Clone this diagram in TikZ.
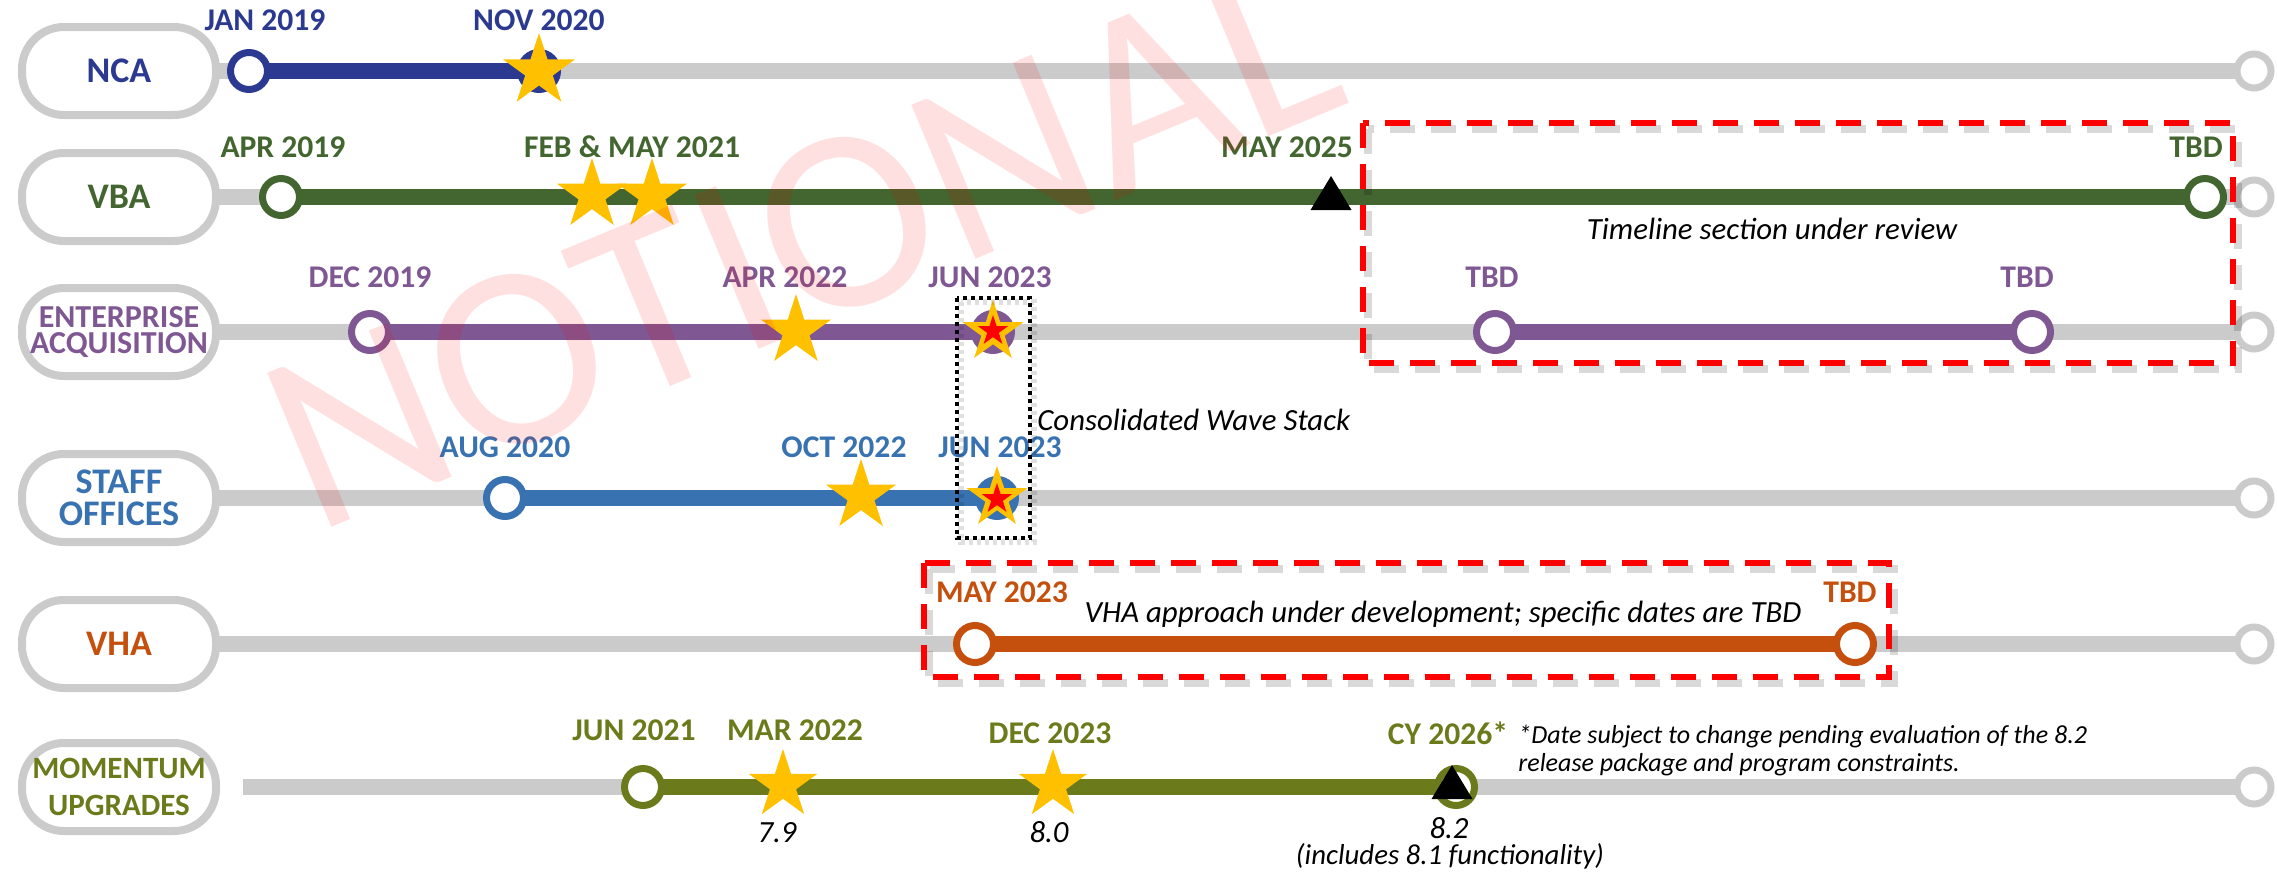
\documentclass[tikz,border=0pt]{standalone}
\usepackage{fontspec}
\setmainfont{Carlito}
\definecolor{ncac}{HTML}{2B3990}
\definecolor{vbac}{HTML}{43652F}
\definecolor{eac}{HTML}{7F5893}
\definecolor{soc}{HTML}{3872B0}
\definecolor{vhac}{HTML}{C5500D}
\definecolor{momc}{HTML}{6B7B1B}
\definecolor{lgray}{HTML}{CBCBCB}
\definecolor{stary}{HTML}{FFC000}
\tikzset{
  pill/.style={draw=lgray, line width=4pt, fill=white, rounded corners=21pt,
    minimum width=97pt, minimum height=44pt, inner sep=0pt, align=center},
  track/.style={lgray, line width=8pt},
  seg/.style={#1, line width=8pt},
  ocirc/.style={circle, draw=#1, line width=3.5pt, fill=white, minimum size=18.5pt, inner sep=0pt},
  gcirc/.style={circle, draw=lgray, line width=3.5pt, fill=white, minimum size=17pt, inner sep=0pt},
  fcirc/.style={circle, fill=#1, minimum size=22pt, inner sep=0pt},
  date/.style={font=\fontsize{15.8}{18}\selectfont\bfseries, text=#1, anchor=base, inner sep=0pt},
  note/.style={font=\fontsize{15.4}{18}\selectfont\itshape, text=black, anchor=base, inner sep=0pt},
  small/.style={font=\fontsize{13}{14}\selectfont\itshape, text=black, anchor=base, inner sep=0pt},
  rbox/.style={draw=red, line width=3pt, dash pattern=on 12.5pt off 8pt},
  rboxsh/.style={draw=black, opacity=0.15, line width=4pt, dash pattern=on 12.5pt off 8pt},
  dbox/.style={draw=black, line width=2pt, dash pattern=on 2.2pt off 1.8pt},
  dboxsh/.style={draw=black, opacity=0.12, line width=3pt, dash pattern=on 2.2pt off 1.8pt},
  pics/ystar/.style args={#1/#2}{code={
    \fill[#2, yscale=-1] (90:#1) -- (126:{0.382*#1}) -- (162:#1) -- (198:{0.382*#1})
      -- (234:#1) -- (270:{0.382*#1}) -- (306:#1) -- (342:{0.382*#1})
      -- (18:#1) -- (54:{0.382*#1}) -- cycle;}},
  pics/mtri/.style={code={\fill[black] (-20.5,12) -- (20.5,12) -- (0,-22) -- cycle;}}
}
\begin{document}
\begin{tikzpicture}[x=0.5pt,y=-0.5pt]
\useasboundingbox (0,0) rectangle (2277,873);

% track end coordinates
\coordinate (tNCA) at (216,71);  \coordinate (eNCA) at (2254,71);
\coordinate (tVBA) at (216,197); \coordinate (eVBA) at (2254,197);
\coordinate (tEA)  at (216,332); \coordinate (eEA)  at (2254,332);
\coordinate (tSO)  at (216,498); \coordinate (eSO)  at (2254,498);
\coordinate (tVHA) at (216,644); \coordinate (eVHA) at (2254,644);
\coordinate (tMOM) at (243,787); \coordinate (eMOM) at (2254,787);

% milestone coordinates
\coordinate (n1) at (249,71);   \coordinate (n2) at (539,71);
\coordinate (v1) at (281,197);  \coordinate (v2) at (2205,197);
\coordinate (a1) at (370,332);  \coordinate (a2) at (993,332);
\coordinate (a3) at (1495,332); \coordinate (a4) at (2032,332);
\coordinate (s1) at (505,498);  \coordinate (s2) at (997,498);
\coordinate (h1) at (975,644);  \coordinate (h2) at (1855,644);
\coordinate (m1) at (643,787);  \coordinate (m2) at (1456,787);

% gray tracks
\draw[track] (tNCA) -- (eNCA);
\draw[track] (tVBA) -- (eVBA);
\draw[track] (tEA) -- (eEA);
\draw[track] (tSO) -- (eSO);
\draw[track] (tVHA) -- (eVHA);
\draw[track] (tMOM) -- (eMOM);

% coloured segments
\draw[seg=ncac] (n1) -- (n2);
\draw[seg=vbac] (v1) -- (v2);
\draw[seg=eac] (a1) -- (a2);
\draw[seg=eac] (a3) -- (a4);
\draw[seg=soc] (s1) -- (s2);
\draw[seg=vhac] (h1) -- (h2);
\draw[seg=momc] (m1) -- (m2);

% pills
\node[pill, text=ncac, font=\fontsize{18}{18}\selectfont\bfseries] (pNCA) at (119,71) {NCA};
\node[pill, text=vbac, font=\fontsize{18}{18}\selectfont\bfseries] (pVBA) at (119,197) {VBA};
\node[pill, text=eac, font=\fontsize{16}{13}\selectfont\bfseries] (pEA) at (119,332) {ENTERPRISE\\ACQUISITION};
\node[pill, text=soc, font=\fontsize{18}{16}\selectfont\bfseries] (pSO) at (119,498) {STAFF\\OFFICES};
\node[pill, text=vhac, font=\fontsize{18}{18}\selectfont\bfseries] (pVHA) at (119,644) {VHA};
\node[pill, text=momc, font=\fontsize{15.5}{18.5}\selectfont\bfseries] (pMOM) at (119,787) {MOMENTUM\\UPGRADES};

% right-hand gray circles
\node[gcirc] (rNCA) at (eNCA) {};
\node[gcirc] (rVBA) at (eVBA) {};
\node[gcirc] (rEA) at (eEA) {};
\node[gcirc] (rSO) at (eSO) {};
\node[gcirc] (rVHA) at (eVHA) {};
\node[gcirc] (rMOM) at (eMOM) {};

% milestone circles
\node[ocirc=ncac] (cn1) at (n1) {};
\node[fcirc=ncac] (cn2) at (n2) {};
\node[ocirc=vbac] (cv1) at (v1) {};
\node[ocirc=vbac] (cv2) at (v2) {};
\node[ocirc=eac] (ca1) at (a1) {};
\node[fcirc=eac] (ca2) at (a2) {};
\node[ocirc=eac] (ca3) at (a3) {};
\node[ocirc=eac] (ca4) at (a4) {};
\node[ocirc=soc] (cs1) at (s1) {};
\node[fcirc=soc] (cs2) at (s2) {};
\node[ocirc=vhac] (ch1) at (h1) {};
\node[ocirc=vhac] (ch2) at (h2) {};
\node[ocirc=momc] (cm1) at (m1) {};
\node[ocirc=momc] (cm2) at (m2) {};

% stars
\pic at (n2) {ystar=38/stary};
\pic at (592,195) {ystar=37/stary};
\pic at (652,195) {ystar=37/stary};
\pic at (796,331) {ystar=37/stary};
\pic at (a2) {ystar=32/stary};
\pic at (993,331) {ystar=16/red};
\pic at (861,496) {ystar=37/stary};
\pic at (s2) {ystar=32/stary};
\pic at (997,499) {ystar=16/red};
\pic at (783,785) {ystar=36/stary};
\pic at (1053,785) {ystar=36/stary};

% triangles
\pic at (1331,198) {mtri};
\pic at (1452,787) {mtri};

% dashed review boxes
\draw[rboxsh] (1368,129) rectangle (2238,369);
\draw[rbox] (1363,123) rectangle (2233,363);
\draw[rboxsh] (929,569) rectangle (1894,683);
\draw[rbox] (924,563) rectangle (1889,677);

% date labels
\node[date=ncac] (lN1) at (265,30) {JAN 2019};
\node[date=ncac] (lN2) at (539,30) {NOV 2020};
\node[date=vbac] (lV1) at (283,157) {APR 2019};
\node[date=vbac] (lV2) at (632,157) {FEB \& MAY 2021};
\node[date=vbac] (lV3) at (1287,157) {MAY 2025};
\node[date=vbac] (lV4) at (2196,157) {TBD};
\node[date=eac] (lA1) at (370,287) {DEC 2019};
\node[date=eac] (lA2) at (785,287) {APR 2022};
\node[date=eac] (lA3) at (990,287) {JUN 2023};
\node[date=eac] (lA4) at (1492,287) {TBD};
\node[date=eac] (lA5) at (2027,287) {TBD};
\node[date=soc] (lS1) at (505,457) {AUG 2020};
\node[date=soc] (lS2) at (844,457) {OCT 2022};
\node[date=soc] (lS3) at (1000,457) {JUN 2023};
\node[date=vhac] (lH1) at (1002,602) {MAY 2023};
\node[date=vhac] (lH2) at (1850,602) {TBD};
\node[date=momc] (lM1) at (634,740) {JUN 2021};
\node[date=momc] (lM2) at (795,740) {MAR 2022};
\node[date=momc] (lM3) at (1050,743) {DEC 2023};
\node[date=momc] (lM4) at (1448,744) {CY 2026*};

% dotted consolidated box
\draw[dboxsh] (961,302) rectangle (1034,542);
\draw[dbox] (957,298) rectangle (1030,538);

% notes
\node[note, anchor=base west] (cws) at (1037,430) {Consolidated Wave Stack};
\node[note] (tsr) at (1772,239) {Timeline section under review};
\node[note] (vhan) at (1443,622) {VHA approach under development; specific dates are TBD};
\node[note] (r79) at (777,842) {7.9};
\node[note] (r80) at (1049,842) {8.0};
\node[note] (r82) at (1449,838) {8.2};
\node[small, font=\fontsize{14.4}{16}\selectfont\itshape] (r81) at (1450,864) {(includes 8.1 functionality)};
\node[small, anchor=base west] (fn1) at (1518,743) {*Date subject to change pending evaluation of the 8.2};
\node[small, anchor=base west] (fn2) at (1518,771) {release package and program constraints.};

% watermark
\node[rotate=22.6, anchor=base, text=red, opacity=0.12, inner sep=0pt,
  font=\fontsize{130}{130}\selectfont] (wm) at (834,318) {NOTIONAL};
\end{tikzpicture}
\end{document}
